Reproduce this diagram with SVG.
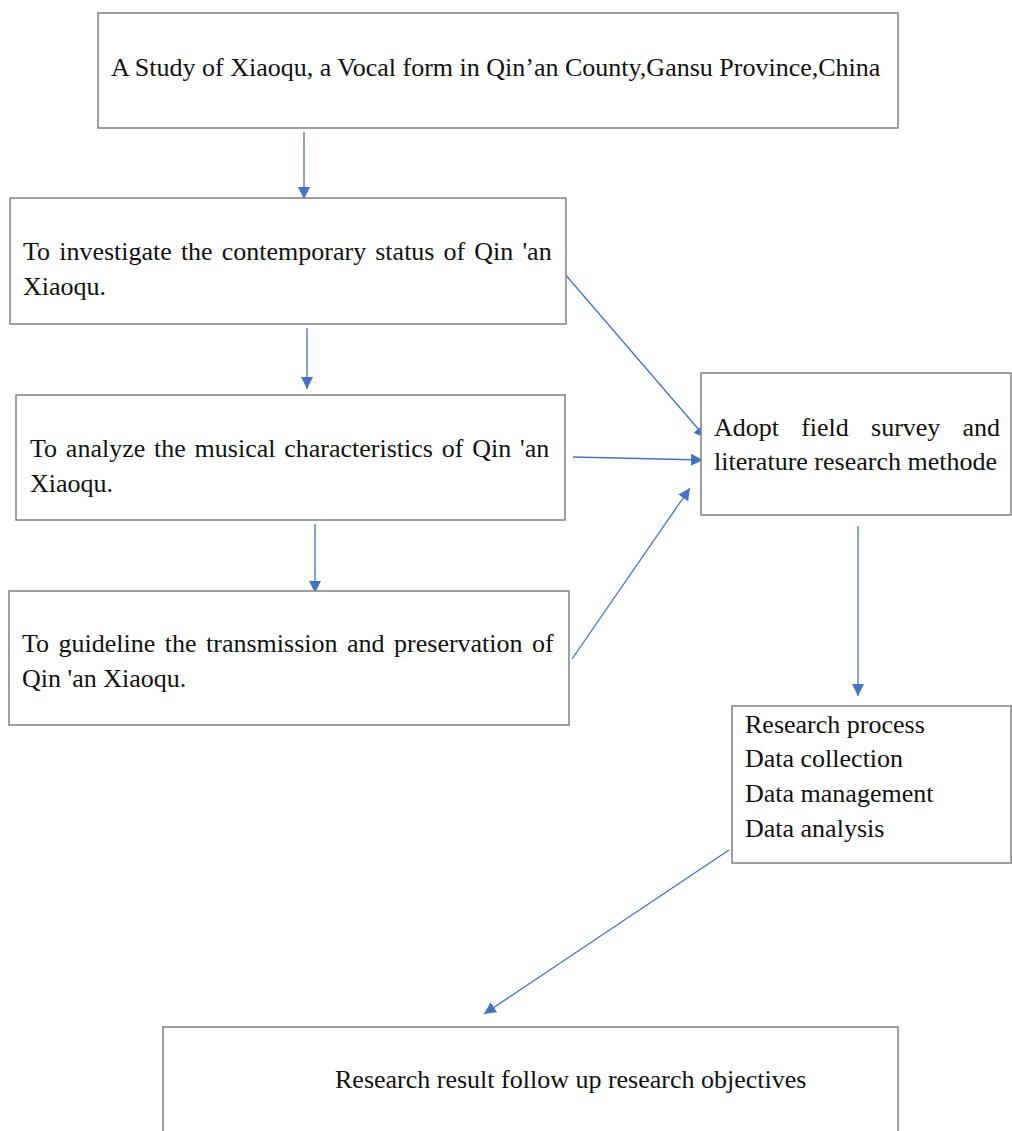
<svg xmlns="http://www.w3.org/2000/svg" width="1012" height="1131" viewBox="0 0 1012 1131">
<style>
.box{fill:#ffffff;stroke:#808080;stroke-width:1.5}
.t{font-family:"Liberation Serif","Times New Roman",serif;font-size:26px;fill:#111111}
.c{stroke:#4472c4;stroke-width:1.3;fill:none;marker-end:url(#ah)}
</style>
<defs>
<marker id="ah" markerUnits="userSpaceOnUse" markerWidth="13" markerHeight="12" refX="12" refY="6" orient="auto">
<path d="M0,0 L12,6 L0,12 z" fill="#4472c4"/>
</marker>
</defs>
<rect width="1012" height="1131" fill="#ffffff"/>
<g id="connectors">
<line class="c" x1="304" y1="132" x2="304" y2="199"/>
<line class="c" x1="307" y1="328" x2="307" y2="389"/>
<line class="c" x1="315" y1="524" x2="315" y2="593"/>
<line class="c" x1="564" y1="273" x2="706" y2="438"/>
<line class="c" x1="573" y1="457" x2="703" y2="460"/>
<line class="c" x1="572" y1="659" x2="690" y2="488"/>
<line class="c" x1="858" y1="526" x2="858" y2="696"/>
<line class="c" x1="729" y1="850" x2="484" y2="1014"/>
</g>
<g id="title">
<rect class="box" x="98" y="13" width="800" height="115"/>
<text class="t" x="111" y="76">A Study of Xiaoqu, a Vocal form in Qin’an County,Gansu Province,China</text>
</g>
<g id="obj1">
<rect class="box" x="10" y="198" width="556" height="126"/>
<text class="t" x="23" y="260" word-spacing="2.6">To investigate the contemporary status of Qin 'an</text>
<text class="t" x="23" y="295">Xiaoqu.</text>
</g>
<g id="obj2">
<rect class="box" x="16" y="395" width="549" height="125"/>
<text class="t" x="30" y="457" word-spacing="2.3">To analyze the musical characteristics of Qin 'an</text>
<text class="t" x="30" y="492">Xiaoqu.</text>
</g>
<g id="obj3">
<rect class="box" x="9" y="591" width="560" height="134"/>
<text class="t" x="22" y="652" word-spacing="3">To guideline the transmission and preservation of</text>
<text class="t" x="22" y="687">Qin 'an Xiaoqu.</text>
</g>
<g id="method">
<rect class="box" x="701" y="373" width="310" height="142"/>
<text class="t" x="714" y="436" word-spacing="15.7">Adopt field survey and</text>
<text class="t" x="714" y="470">literature research methode</text>
</g>
<g id="process">
<rect class="box" x="732" y="706" width="279" height="157"/>
<text class="t" x="745" y="733">Research process</text>
<text class="t" x="745" y="767">Data collection</text>
<text class="t" x="745" y="802">Data management</text>
<text class="t" x="745" y="837">Data analysis</text>
</g>
<g id="result">
<rect class="box" x="163" y="1027" width="735" height="120"/>
<text class="t" x="335" y="1088">Research result follow up research objectives</text>
</g>
</svg>
